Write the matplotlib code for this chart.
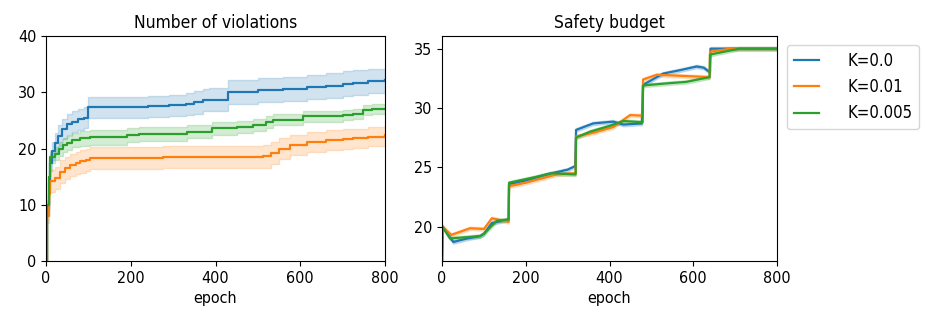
import numpy as np
import matplotlib
matplotlib.use('Agg')
import matplotlib.pyplot as plt

plt.rcParams['font.family'] = ['DejaVu Sans']
plt.rcParams['font.stretch'] = 'condensed'

labels = ['K=0.0', 'K=0.01', 'K=0.005']
colors = ['tab:blue', 'tab:orange', 'tab:green']

# number of violations (mean, half-width of band)
viol_blue_x = [0, 3, 6, 10, 15, 20, 28, 38, 50, 62, 75, 90, 100, 240, 290, 330, 350, 370, 385, 430, 500, 560, 615, 660, 700, 725, 760, 800]
viol_blue_y = [0, 9, 14, 17.5, 19.5, 21, 22.3, 23.5, 24.3, 24.8, 25.2, 25.5, 27.3, 27.5, 27.7, 27.9, 28.2, 28.6, 28.7, 30.1, 30.4, 30.6, 30.9, 31.2, 31.5, 31.7, 32.0, 32.2]
viol_blue_e = [0, 1.0, 1.3, 1.5, 1.6, 1.7, 1.8, 1.8, 1.9, 1.9, 1.9, 1.9, 1.9, 1.9, 1.9, 2.0, 2.0, 2.0, 2.0, 2.1, 2.1, 2.1, 2.1, 2.2, 2.2, 2.2, 2.2, 2.2]

viol_orange_x = [0, 3, 6, 10, 20, 33, 45, 57, 70, 80, 95, 104, 276, 512, 530, 550, 576, 616, 660, 700, 725, 760, 800]
viol_orange_y = [0, 8, 12, 14.2, 14.8, 15.9, 16.5, 17.1, 17.4, 17.7, 18.0, 18.3, 18.5, 18.6, 19.2, 20.0, 20.6, 21.2, 21.5, 21.7, 21.8, 22.1, 22.4]
viol_orange_e = [0, 1.2, 1.6, 1.9, 2.0, 2.0, 2.0, 2.0, 2.0, 2.0, 2.0, 2.0, 2.0, 2.0, 1.9, 1.9, 1.8, 1.8, 1.8, 1.7, 1.7, 1.7, 1.7]

viol_green_x = [0, 3, 6, 10, 21, 30, 40, 50, 61, 80, 104, 191, 220, 333, 391, 450, 489, 520, 536, 606, 700, 725, 748, 770, 800]
viol_green_y = [0, 10, 15, 18.5, 19.1, 19.9, 20.6, 21.0, 21.5, 21.8, 22.0, 22.4, 22.6, 23.0, 23.6, 23.8, 24.2, 24.7, 25.1, 25.7, 25.9, 26.1, 26.8, 27.0, 27.1]
viol_green_e = [0, 0.8, 1.0, 1.1, 1.2, 1.2, 1.3, 1.3, 1.3, 1.3, 1.3, 1.3, 1.2, 1.2, 1.2, 1.1, 1.1, 1.0, 1.0, 1.0, 0.9, 0.9, 0.9, 0.9, 0.9]

# safety budget
bud_blue_x = [0, 1, 27, 60, 91, 100, 119, 159, 160, 200, 250, 300, 318, 320, 361, 409, 433, 477, 480, 528, 570, 608, 625, 640, 641, 800]
bud_blue_y = [17.2, 20.0, 18.7, 19.0, 19.2, 19.4, 20.3, 20.6, 23.6, 23.9, 24.4, 24.8, 25.1, 28.15, 28.7, 28.85, 28.6, 28.7, 31.95, 32.9, 33.2, 33.5, 33.4, 33.0, 35.0, 35.0]

bud_orange_x = [0, 1, 22, 67, 100, 119, 159, 160, 200, 274, 319, 320, 360, 409, 449, 479, 480, 513, 577, 639, 640, 688, 800]
bud_orange_y = [17.2, 20.0, 19.3, 19.86, 19.8, 20.7, 20.4, 23.4, 23.7, 24.4, 24.5, 27.6, 27.9, 28.4, 29.4, 29.35, 32.4, 32.8, 32.7, 32.6, 34.75, 35.0, 35.0]

bud_green_x = [0, 1, 19, 91, 100, 131, 159, 160, 226, 262, 319, 320, 353, 401, 433, 479, 480, 545, 583, 639, 640, 710, 800]
bud_green_y = [17.2, 20.0, 19.0, 19.2, 19.4, 20.5, 20.6, 23.7, 24.2, 24.5, 24.4, 27.5, 28.0, 28.5, 28.9, 28.8, 31.9, 32.1, 32.2, 32.6, 34.5, 35.0, 35.0]

viol = [(viol_blue_x, viol_blue_y, viol_blue_e),
        (viol_orange_x, viol_orange_y, viol_orange_e),
        (viol_green_x, viol_green_y, viol_green_e)]
bud = [(bud_blue_x, bud_blue_y), (bud_orange_x, bud_orange_y), (bud_green_x, bud_green_y)]

fig = plt.figure(figsize=(9.3, 3.22), dpi=100)
ax1 = fig.add_axes([0.0495, 0.1894, 0.3645, 0.6988])
ax2 = fig.add_axes([0.4753, 0.1894, 0.3602, 0.6988])

for (x, y, e), c in zip(viol, colors):
    x = np.array(x); y = np.array(y); e = np.array(e)
    ax1.plot(x, y, color=c, lw=1.6, drawstyle='steps-post')
    ax1.fill_between(x, y - e, y + e, color=c, alpha=0.2, step='post')
ax1.set_xlim(0, 800)
ax1.set_ylim(0, 40)
ax1.set_yticks([0, 10, 20, 30, 40])
ax1.set_title('Number of violations', fontsize=12.5)
ax1.set_xlabel('epoch', fontsize=11.5)

for (x, y), c, lab in zip(bud, colors, labels):
    x = np.array(x); y = np.array(y)
    ax2.plot(x, y, color=c, lw=1.6, label=lab)
    ax2.fill_between(x, y - 0.15, y + 0.15, color=c, alpha=0.2)
ax2.set_xlim(0, 800)
ax2.set_ylim(17.1, 36.07)
ax2.set_yticks([20, 25, 30, 35])
ax2.set_title('Safety budget', fontsize=12.5)
ax2.set_xlabel('epoch', fontsize=11.5)

for ax in (ax1, ax2):
    ax.set_xticks([0, 200, 400, 600, 800])
    ax.tick_params(labelsize=11.5)

ax2.legend(loc='upper left', bbox_to_anchor=(1.03, 0.96), borderaxespad=0,
           fontsize=12, handletextpad=1.7, handlelength=1.5)

fig.savefig('out.png', dpi=100)
